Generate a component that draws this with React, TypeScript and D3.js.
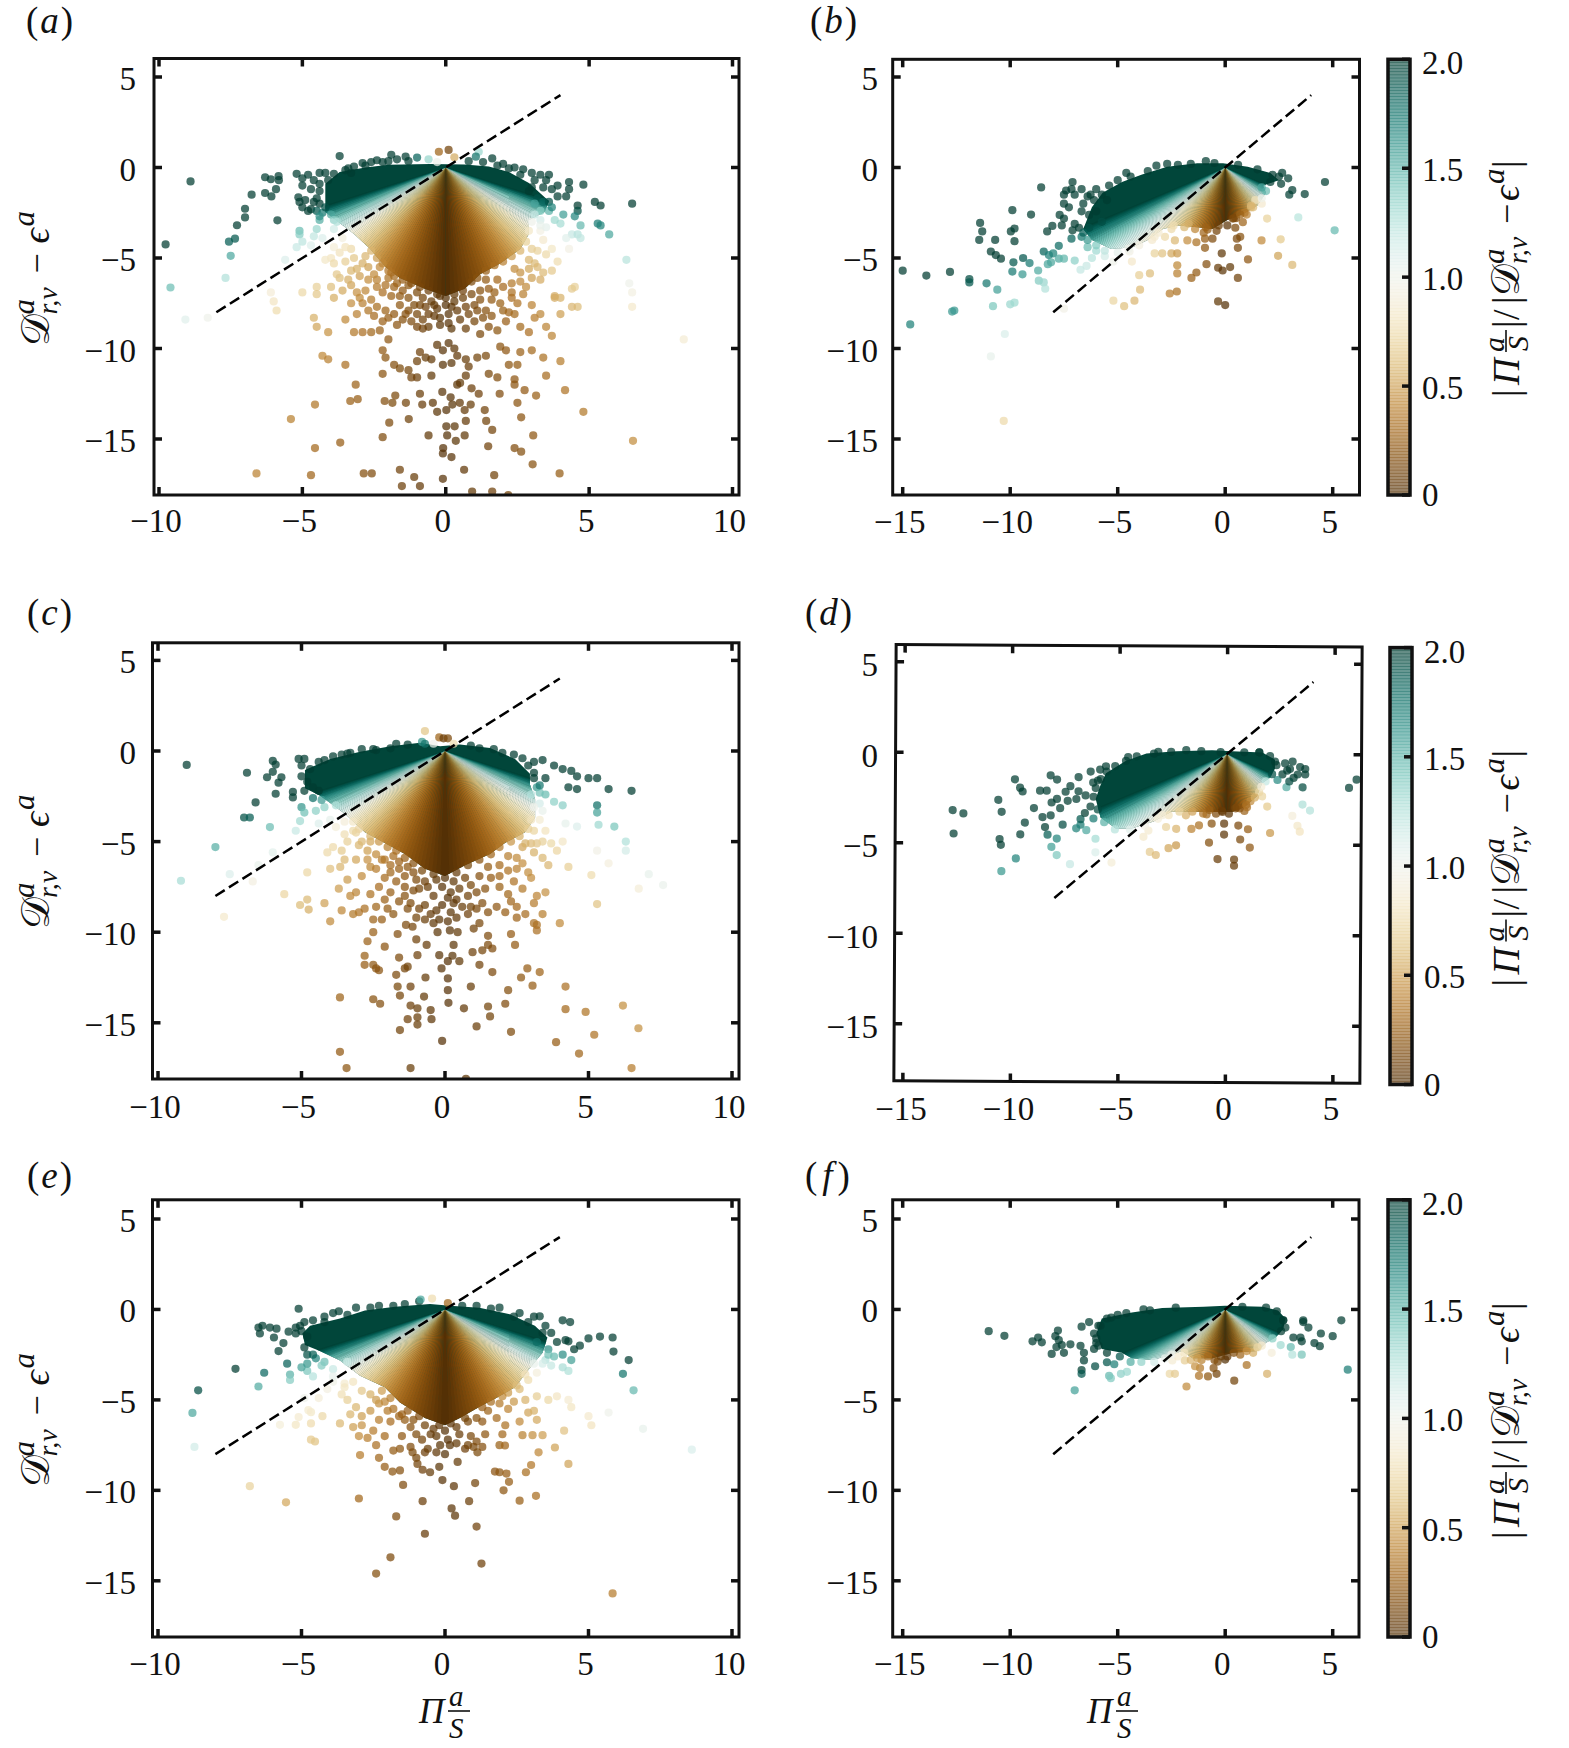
import * as d3 from "d3";

// flat x,y lists
const ptsA = [
-3.7,.63,-1.9,.7,-1.4,.6,-1,.55,-2.4,.4,-1.7,.45,-3.2,.05,-2.9,.25,-2.6,.3,-2.2,.3,-.6,.45,1.15,.87,1.05,.6,1.62,.5,2,.2,2.4,0,2.7,-.1,3,-.3,3.3,-.4,3.6,-.4,3.5,-.7,3.1,-.7,3.9,-1,4.3,-.8,4.8,-.95,4.3,-1.2,3.7,-1.2,3.4,-1.1,3,-1.1,2.9,-1.3,3.9,-1.6,4.2,-1.6,4.6,-2.1,5.2,-1.9,5.4,-2.1,6.5,-2,5.3,-3.1,5.4,-3.2,5.7,-3.7,4.6,-2.4,4.5,-2.7,4.1,-2.6,3.6,-2.4,3.3,-2.4,4,-3.1,4.7,-3.2,4.4,-3.7,4.6,-3.7,4.7,-3.9,4.2,-3.9,3.8,-2.9,3.3,-2.9,3.1,-2.6,
-8.9,-.77,-9.77,-4.25,-9.6,-6.63,-9.08,-8.4,-8.3,-8.3,-7.68,-6.1,-7.5,-4.88,-7.56,-4.1,-7.35,-3.93,-7.28,-3.19,-7,-2.76,-7,-2.28,-6.77,-1.5,-6.3,-.54,-6.1,-.65,-5.83,-.48,-5.82,-.7,-5.92,-1.2,-6.3,-1.41,-6.08,-1.6,-5.87,-2.92,-5.14,-1.65,
-5.2,-.35,-5,-.6,-4.8,-.4,-4.6,-.7,-4.4,-.3,-4.2,-.3,-5,-1,-4.7,-1.2,-4.4,-1.3,-5.1,-1.9,-4.9,-1.8,-4.6,-1.9,-4.4,-2,-4.7,-2.3,-4.5,-2.4,-4.3,-2.5,-4.8,-2.4,-5,-2.2,-4,-2.6,-3.9,-2.9,-4.4,-2.9,-5.1,-3.5,-5.1,-3.7,-4.5,-3.4,-3.9,-3.4,-4.3,-3.9,-4.6,-3.8,-5,-4.1,-5.2,-4.4,-5.6,-5.1,-4.7,-4.3,-3.6,-3.9,-3.9,-4.4,-3.3,-4.5,-3.7,-4.7,-4,-5,-3.5,-5.2,-4.2,-5.1,-3.9,-5.3,
-6.1,-6.9,-6,-7.4,-5.9,-7.9,-5,-6.9,-4.5,-6.6,-4.5,-7,-4,-6.6,-3.9,-7.2,-3.7,-6.1,-3.3,-5.7,-3,-6,-3.3,-6.5,-2.9,-5.3,-3.1,-6.9,-2.8,-6.8,-2.6,-7.3,-2.4,-6.2,-2,-6.1,-1.9,-5.8,-2.2,-6.9,-1.7,-6.4,-1.5,-6.8,
6.3,-5.1,6.4,-6.4,6.5,-6.9,6.5,-7.7,8.3,-9.5,4.5,-6.6,4.6,-7.7,3.8,-7.1,3.9,-5.2,3.7,-5.7,3.4,-5.8,3.2,-4.6,3.5,-4.8,3.3,-6.2,3,-6.1,2.8,-6.6,2.6,-6.3,2.3,-6.4,2,-6.6,2.4,-5.6,4.3,-4.5,3.1,-5.3,2.9,-5.6,1.8,-6.2,1.5,-6.7,
-1.3,-6.5,-1,-6.9,-.8,-7.2,-.5,-7.4,-.2,-7.1,.3,-7.4,.6,-7.2,.9,-7,1.2,-6.8,1.4,-6.2,-.9,-7.6,-.3,-7.8,.2,-7.7,1,-7.6,
-3.5,-4.4,-3.2,-5,-3.1,-5.6,-2.8,-4.9,-2.7,-5.5,-2.5,-5.9,-2.3,-5.5,-2.7,-6.2,-2.4,-6.6,-2.1,-6.5,-1.8,-6.6,-1.6,-7.1,-1.9,-7.1,-1.3,-7.2,-1.1,-7.6,-1.3,-7.9,-.7,-7.7,-.6,-8.1,-1,-8.1,-.2,-8.3,0,-7.6,.4,-7.9,.7,-7.7,.8,-8.1,1.2,-7.3,1.4,-7.9,1.6,-8.2,1.3,-8.3,2,-7.9,2.2,-8,2.5,-7.5,1.7,-6.9,2.3,-6.9,2.6,-5.8,2.9,-5.1,3.2,-5.5,3,-4.5,3.4,-4,3.7,-4.5,3.3,-3.5,-3.8,-5.9,-3.4,-6.2,-3.6,-6.8,-3,-7.2,-3.3,-7.5,-2.9,-7.5,-2.5,-8.2,-2.2,-8.5,-1.7,-8.7,-1.5,-8.4,-.8,-8.9,.1,-8.6,1.1,-7.9,-.4,-7.6,
-4.4,-.9,-4.1,-.7,-3.9,-.35,-3.5,-.15,-3.3,-.3,-4.5,-1.7,-4.2,-2.2,-4.4,-2.7,-3.8,-3,3.2,-1.7,3.4,-1.9,3.1,-2,3.6,-1.9,3.7,-2.2,3.5,-3.3,3.3,-3.2,2.6,-.4,2.2,-.05,1.8,.1,1.3,.3,.8,.35,-.3,.3,-1.3,.35,-2,.35,-2.8,.1,-3.4,-.05,
-2.6,-4.6,-2.4,-5,-2.2,-5.3,-2,-5.7,-1.8,-6,-1.5,-6.2,-1.2,-6.4,-.9,-6.6,-.6,-6.8,-.3,-7,0,-7.2,.3,-7,.6,-6.8,.9,-6.3,1.1,-6.1,1.4,-5.7,1.7,-5.4,2,-5.2,2.3,-4.9,2.6,-4.6,2.8,-4.1,2.9,-3.5,3,-3,
-4.6,-8.3,-4.5,-8.8,-4.1,-9.1,-3.5,-8.4,-3.2,-9.1,-3.1,-8.1,-2.7,-7.9,-2.4,-7.7,-2.1,-7.9,-2,-8.3,-1.8,-8.1,-1.6,-7.6,-1.4,-8.1,-1.2,-8.5,-1,-8.8,-.8,-8.4,-.6,-8.8,-.4,-8.2,-.2,-8.7,.1,-8.1,.2,-8.9,.5,-8.4,.7,-8.9,1,-8.5,1.2,-9.2,1.5,-8.8,1.8,-9,2.1,-8.5,2.4,-8.1,2.6,-8.8,2.9,-9.1,3.1,-8.3,3.3,-8.1,3.5,-8.8,3.7,-9.3,3.8,-7.2,4,-7.2,4,-8.1,4.4,-7.7,4.4,-6.7,1.6,-7.3,1.9,-7.5,2.3,-7.2,2.7,-7,3,-7.6,
-4.3,-10.4,-4.1,-10.6,-3.5,-10.9,-2.9,-9.1,-2.6,-9.1,-2.3,-9,-2,-9.5,-2.2,-10.1,-2.1,-10.5,-1.8,-10.9,-1.6,-11.1,-2.2,-11.4,-1.3,-11.2,-1.2,-11.6,-1,-11.6,-.9,-10.2,-1,-10.7,-.7,-10.5,-.5,-11.5,-.3,-9.8,-.1,-10.1,.1,-9.7,.3,-10,.4,-10.4,.2,-10.8,-.1,-10.9,.7,-10.6,.8,-11,.7,-11.5,1.1,-10.5,1.4,-10.4,1.5,-11.4,1.8,-11.6,1.9,-9.9,2.1,-10.1,2.2,-10.9,2.5,-10.9,2.4,-11.7,2.4,-12,2.6,-10.2,3,-10.1,3.4,-10.5,4,-10.7,3.5,-11.5,.4,-12,.5,-11.9,.9,-12.2,-.5,-10.6,
-6.6,-16.9,-4.7,-17,-2.86,-16.9,-2.58,-16.9,-1.6,-16.7,-1.1,-17.1,-1.53,-17.6,-.9,-17.6,-.1,-17.2,.64,-16.7,1.69,-17,3.03,-16.4,3.97,-16.9,.92,-17.9,1.62,-17.9,2.18,-18.1,-4.56,-15.5,-3.68,-15.2,-2.2,-14.9,-1.97,-14.1,-1.29,-13.9,-5.4,-13.9,-4.56,-13.1,-3.33,-12.9,-3.07,-12.8,-3.14,-12,-2.13,-12.9,-1.76,-12.6,-1.86,-13,-1.39,-13,-.9,-12.5,-.82,-13.1,-.45,-13,-.3,-13.5,.02,-13.4,-.12,-12.4,.17,-12.7,.23,-13.1,.49,-13,.66,-13.4,.87,-13.1,.7,-14,.02,-14.3,.31,-14.3,1.36,-13.4,1.15,-12.5,1.88,-12.5,2.5,-13,2.63,-13.8,3.15,-12.6,2.75,-12.3,4.16,-12.3,4.8,-13.5,6.53,-15.1,3.05,-14.8,1.62,-14.5,1.41,-14,-.6,-14.8,.05,-14.8,.66,-14.8,.35,-15.1,-.09,-15.5,-.1,-15.8,.2,-16,1.48,-15.4,2.4,-15.5,2.63,-15.7,
-.24,.87,.1,.97,.3,.56,
];
const envA = [-4.2,-1.45,-4.2,-.9,-3.7,-.25,-2.8,0,-2,.15,-.55,.2,.66,.16,1.5,.06,2.2,-.25,2.9,-.85,3.45,-1.65,3.6,-1.85,3.45,-2.46,2.9,-2.9,2.9,-3.67,2.6,-4.5,1.9,-5.3,1.2,-5.9,.66,-6.7,0,-7.1,-.73,-6.7,-1.6,-6.1,-2.1,-5.5,-2.65,-4.48,-3.2,-3.67,-3.7,-3.06,-4.2,-2.46];

const ptsB = [
-15,-5.7,-13.9,-5.97,-12.8,-5.77,-11.9,-6.17,-11.9,-6.35,-11.1,-6.4,-10.6,-6.75,-14.65,-8.67,-12.7,-7.96,-12.6,-7.9,-10.8,-7.66,-10,-7.56,-9.8,-7.46,-10.25,-9.2,-10.9,-10.44,-10.3,-14,-7.5,-7.8,
-11.4,-3.06,-11.3,-3.53,-11.44,-4,-10.7,-4,-10.9,-4.64,-10.67,-4.84,-10.43,-5.04,-9.9,-2.36,-9.03,-2.6,-8.56,-1.1,-9.97,-3.53,-9.8,-3.37,-9.8,-4.07,-9.85,-5.24,-9.4,-5,-9.1,-5.28,-9.9,-5.75,-9.43,-5.9,-8.7,-5.69,-8.67,-6.25,-8.44,-6.35,-8.37,-6.7,-8.44,-4.64,-8.2,-4.84,-8,-4.74,-8.25,-5.34,-8.1,-5.24,-7.74,-5.04,-7.5,-5.04,-7,-5.14,-6.73,-5.65,-6.45,-5.44,-8.28,-3.53,-8.04,-3.23,-7.74,-4.33,
-7.1,-.8,-7.15,-1.2,-7.4,-1.27,-6.68,-1.2,-7.5,-1.5,-7,-1.5,-7.5,-2,-7.27,-2.2,-7.7,-2.62,-7.5,-2.82,-7.6,-3.2,-7,-3.12,-6.68,-2.42,-6.33,-2.62,-6.26,-1.5,-5.74,-1.5,-6.1,-1.8,-5.5,-1.8,-6,-2.42,-6.8,-3.33,-6.33,-3.33,-6.68,-3.83,-7.15,-3.93,-7.1,-3.47,-5.74,-3,-6.4,-4.4,-6,-4.6,-5.6,-4.9,-5.2,-5.2,-6.2,-5,
4.64,-.8,5.09,-3.47,3.7,-1.47,3.12,-1.25,2.98,-1.5,2.93,-.6,2.65,-.3,1.95,-2.82,3.4,-2.76,1.69,-4.03,2.58,-3.97,2.46,-4.88,3.12,-5.38,1.06,-5.08,.59,-4.44,.7,-3.83,.54,-3.93,.47,-3.33,.82,-3.02,.35,-2.82,1.4,-1.8,1.2,-2.2,1,-2.6,1.7,-2,
-.16,-4.74,-.87,-5.34,-.33,-5.54,-.12,-5.69,.23,-5.5,.59,-6.1,-1.34,-5.8,-1.57,-6.1,-2.23,-5.4,-2.23,-5.85,-3.5,-5.85,-4,-5.95,-3.96,-6.75,-2.58,-6.96,-2.25,-6.85,-5.2,-7.36,-4.7,-7.66,-4.22,-7.36,-.33,-7.4,0,-7.6,
-4.34,-5.2,-4.45,-4.64,-3.28,-4.74,-2.93,-4.74,-2.5,-4.74,-2.23,-4.74,-2.34,-4.03,-1.76,-4.03,-1.34,-4.13,-.94,-4.44,-.94,-3.93,-.59,-3.93,-.82,-3.43,-3.28,-3.83,-2.8,-3.83,
-4.6,-.3,-3.2,.1,-2.7,.2,-.9,.35,
-6.6,-2,-6.4,-1.6,-6,-1.2,-5.4,-1,-5,-.7,-4.4,-.5,-3.6,-.2,-2.2,.15,-1.6,.2,-.5,.25,.6,.15,1.5,-.1,2.2,-.4,2.5,-.5,2.6,-.9,2.1,-.8,-6.6,-3.6,-6.4,-4,-6,-4.3,-5.6,-4.6,-5,-4.7,-4.5,-4.5,-4,-4.3,-3.4,-4,-3.1,-3.6,-2.5,-3.4,-1.9,-3.3,-1.4,-3.4,-1,-3.6,-.4,-3.5,.1,-3.2,.5,-2.8,.9,-2.5,1.3,-2.2,1.7,-1.7,1.9,-1.3,1.7,-1.1,
-.3,-3.2,-.9,-3.3,-1.7,-3.1,-2.4,-3.2,.4,-2.8,.7,-2.6,1.2,-2.1,
];
const envB = [-6.2,-2.2,-5.7,-1.4,-4.8,-.8,-3.9,-.4,-2.7,.04,-1.3,.24,-.1,.24,1.05,.04,2.1,-.3,2.5,-.7,1.76,-1,1.9,-1.4,1.5,-2.1,.8,-2.6,.1,-2.9,-.6,-3.4,-1.3,-3.3,-2.2,-3.2,-2.9,-3.4,-3.6,-4,-4.3,-4.4,-5.3,-4.5,-6.2,-4,-6.6,-3.4];

const ptsC = [
-9,-.77,-9.2,-7.16,-8,-5.3,-7.7,-9.15,-6.9,-1.2,-7,-3.67,-6.8,-3.67,-6.6,-2.84,-6.1,-4.2,-6,-.54,-5.9,-.75,-6,-1.15,-6.2,-1.45,-5.7,-1.45,-5.8,-1.75,-5.9,-2.36,-5.3,-2.26,-5.3,-2.56,-5.1,-.44,-4.9,-.44,-5.6,-7.9,-4.8,-6.7,-5.05,-8.5,-4.8,-8.2,-4.75,-8.75,-4.2,-8.4,-4,-9.4,-4,-6.5,-3.65,-6.4,-5.05,-3.87,-5.2,-4.4,-6,-5.6,-7.5,-6.8,-6.7,-7.2,-6.5,-6.3,
6.5,-2.2,5.7,-2.1,5.3,-3,5.3,-3.4,5.35,-4.07,5.9,-4.17,4.6,-4.17,4.2,-4,6.3,-5,6.3,-5.5,5.3,-5.5,5.7,-6.2,5.1,-6.85,7.1,-6.8,7.6,-7.4,6.75,-7.6,5.3,-8.45,4.3,-6.4,4,-9.5,
-3.66,-13.6,-2.5,-13.7,-2.26,-13.95,-3.66,-16.6,-3.43,-17.5,-1.2,-17.5,-.1,-16,-1.57,-15.4,-1.3,-14.8,-.96,-15.1,-.96,-14.7,-.47,-14.8,-.5,-14.3,-1.2,-14.05,-.96,-14.2,.12,-13.9,.66,-14.2,1.5,-14.1,2.1,-13.95,1.57,-14.65,1.1,-15.2,2.3,-15.5,3.87,-16.07,4.67,-16.7,5.2,-15.66,4.9,-14.4,4.2,-14.25,6.2,-14.05,6.74,-15.3,6.5,-17.5,.73,-18.1,
4.2,-13,3.05,-12.95,2.2,-13.2,2.65,-12.5,2.87,-12,3.3,-12.2,.9,-13,.1,-13.2,-.73,-13.55,-1.57,-13.5,-1.65,-13,-1.2,-13,-.68,-12.5,-1.7,-12.35,-1.4,-12,-1.3,-11.9,.1,-12.55,-.12,-12,1.2,-11.8,1.65,-12.2,.26,-11.3,.1,-11.6,-.2,-11.27,.5,-11.6,.96,-11.1,1.3,-11,1.5,-10.7,2.44,-10.7,2.3,-10.1,1.5,-10.2,1.65,-10.9,-.96,-11.27,-1.6,-11.4,-2.1,-10.8,-2.8,-11.3,-2.8,-11.8,-2.5,-11.8,-2.4,-12,-2.3,-12.1,-2.7,-10.5,-2.5,-10,-2.5,-9.3,-2.2,-9.3,-1.65,-10.1,-1.36,-9.6,-1.13,-9.7,-1,-10.4,-.64,-10.7,-.26,-10,.17,-9.9,.44,-10,.3,-10.7,3.2,-9.6,3.2,-9.9,3.1,-9.5,
-3.4,-7.1,-3.1,-7.8,-2.9,-6.9,-3.3,-8,-3,-8.9,-2.8,-8.7,-2.6,-7.9,-2.3,-7.5,-2.1,-8.2,-1.9,-7.8,-2.1,-7,-1.7,-7.2,-1.6,-8.3,-1.4,-8,-1.2,-8.4,-1.1,-7.7,-.9,-8.7,-.7,-8.5,-.5,-9,-.3,-8.8,-.2,-9.3,.1,-9.4,.1,-8.1,-.1,-7.5,.2,-7.8,.4,-8.2,.6,-8.6,.8,-9,.8,-8,1.1,-8.7,1.3,-8.4,1.5,-8.9,1.8,-8.6,1.4,-7.6,1.9,-7.5,2.2,-7.9,2.1,-8.9,2.5,-8.6,2.8,-9,2.4,-7.2,2.7,-7.6,3,-7,3.2,-8,3.5,-7.8,3.4,-9,3.1,-8.4,2.9,-6.7,
-5,-.8,-4.7,-1,-4.8,-1.7,-4.9,-2.2,-4.6,-2.6,-4.4,-2.2,-4.2,-.5,-3.6,-.2,-3.3,-.1,-2.9,.1,-2.4,.05,-1.9,.15,-1.7,.4,-.8,.5,-.7,.4,
-.2,.75,-.05,.7,.1,.7,-.7,1.1,.3,.4,1.2,.15,1.7,.1,2.4,-.2,2.7,-.4,3.1,-.6,3.4,-.5,3.8,-.8,4.1,-1,4.4,-1.1,4.6,-1.4,3.1,-1.2,3.5,-1.5,3.2,-2,3.5,-2.4,3.3,-2.3,3,-2.4,4.3,-2,4.6,-2.1,5,-1.5,5.3,-1.5,3.8,-2.8,4.1,-3,3.3,-2.9,
-5,-3.1,-4.9,-3.4,-4.5,-3.3,-4.2,-3.1,-4.4,-4,-4,-3.8,-3.8,-4.2,-3.5,-4.6,-3.2,-4.4,-3.4,-5,-3.9,-5.3,-3,-5.2,-2.7,-5.5,-2.4,-5.7,-3.1,-6,-2.6,-6.4,-2.2,-6,-1.9,-6.3,-1.6,-6.5,-1.4,-6.9,
3.5,-4.4,3.7,-5.1,3.4,-5.9,3.1,-5.6,3.6,-6.3,3,-5.1,2.7,-5.3,2.5,-5.9,2.2,-5.8,1.9,-6.3,1.5,-6.4,1.2,-6.9,.7,-7,-.3,-7.1,-.7,-7.2,-1,-7.1,3.9,-5.5,4.1,-5,
-3.5,-3.9,-3.1,-4.5,-2.9,-5,-2.6,-5,-2.7,-6,-2.4,-6.5,-2.1,-6,-1.8,-5.8,-1.9,-6.7,-1.6,-6.1,-1.3,-6.4,-1.1,-6.7,-1.4,-7.5,-.9,-7.6,-.6,-7.5,-.4,-8,-.1,-8.5,.2,-8.9,.3,-8.4,.3,-7.2,.5,-7.6,.9,-7.4,1.1,-7.8,1.6,-7,1.9,-6.9,2.2,-6.6,2.5,-6.5,2.7,-6.2,2.8,-5.1,3.2,-5.1,3.4,-5,3.1,-4.4,3.3,-3.8,3.4,-3.3,-2,-8.7,-1.8,-9,-1.3,-8.7,-1,-9.2,-.7,-9.3,-.4,-9.5,.4,-9.2,.9,-8.6,1.2,-9.5,2.3,-8.3,2.5,-9.2,1,-9.8,-3.6,-8.8,-3.2,-9,-2.4,-8.6,-3.7,-7.6,-3.5,-6,-4.1,-5.6,-3.6,-5.5,
-4.4,-.6,-3.9,-.3,-3.4,-.15,-2.5,.1,-1.3,.35,-.4,.4,.9,.3,2,-.1,2.9,-.8,-5,-1.4,-4.6,-2,-4.3,-2.7,-3.8,-3,3.1,-1.5,3.3,-1.9,
-3.2,-3.9,-3,-4.3,-2.6,-4.7,-2.3,-5,-2,-5.3,-1.7,-5.5,-1.4,-5.9,-1.1,-6.2,-.8,-6.6,-.4,-6.8,0,-7,.4,-6.7,.8,-6.3,1.2,-6,1.6,-5.7,1.9,-5.3,2.3,-5,2.6,-4.7,2.9,-4.3,3,-3.8,3.1,-3.1,
];
const envC = [-4.88,-1.05,-4,-.44,-2.96,-.04,-1.9,.26,-.87,.46,-.17,.26,.52,.36,1.57,.16,2.44,-.44,2.96,-1.25,2.96,-1.85,3.14,-2.66,3.14,-3.67,2.79,-4.48,2.09,-5.08,1.57,-5.69,.7,-6.3,0,-6.9,-.7,-6.5,-1.4,-5.69,-2.1,-5.08,-2.79,-4.48,-3.48,-3.47,-4.36,-2.46,-4.88,-2.06];

const ptsD = [
-12.75,-3.18,-12.25,-3.36,-12.7,-4.47,-10.63,-2.6,-10.47,-3.26,-10.56,-4.76,-10.5,-5.08,-10.47,-6.54,-9.8,-5.83,-9.86,-1.46,-9.62,-1.92,-9.5,-2.13,-9.39,-3.85,-9.6,-4.5,-8.97,-3.04,-8.69,-2.08,-8.38,-2.08,-8.2,-1.23,-7.9,-1.46,-8.57,-3.54,-8.45,-4.09,-8.33,-4.51,-8.19,-3.44,-8.15,-2.73,-7.9,-2.53,-7.75,-3.04,-7.63,-3.95,-7.9,-4.72,-8.15,-5.18,-7.9,-5.63,-7.28,-6.13,-6.1,-5.47,-6.1,-4.72,-5.35,-6.03,-6.8,-3.95,-6.53,-4.25,-6.8,-3.64,-7,-4.15,
-7.5,-2.13,-7.28,-1.82,-6.9,-1.32,-6.34,-1.01,-7.4,-2.63,-7,-2.53,-6.57,-2.33,-6.22,-1.62,-6.1,-1.92,-5.87,-1.42,-5.63,-.71,-6.34,-2.94,-5.9,-.9,-6.9,-2.1,-6.6,-3.3,-6.2,-3.6,
6.03,-1.38,5.68,-1.84,3.52,-1.82,2.77,-1.82,3.52,-2.77,3.87,-3.1,3.05,-3.4,3.29,-3.95,3.4,-4.27,2.02,-4.35,1.64,-2.33,1.88,-2.89,3.64,-.81,3.64,-1.11,3.05,-.4,2.58,-1.11,3.29,-1.11,2.93,-.81,2.7,-.5,2.23,-.4,2.35,-1.42,2.8,-.9,3.4,-.7,3.1,-1.3,2.9,-1.5,
-.42,-5.81,.35,-5.83,.35,-6.17,-.82,-4.9,-.12,-4.45,.63,-4.72,1.08,-5.16,.99,-4.15,.54,-3.95,-.12,-3.85,-.7,-3.85,-1.29,-3.95,-1.64,-4.15,-2.35,-4.15,-2.82,-4.05,-2.35,-5.06,-2.7,-5.22,-3.57,-5.43,-3.29,-5.6,-3.64,-4.25,-3.87,-4.6,.82,-3.14,.47,-2.94,.94,-2.94,-.94,-3.34,-.23,-3.14,
-4.6,-.2,-3.2,.1,-1.9,.2,1.5,.1,
-6,-1.5,-5.6,-1,-5.2,-.7,-4.7,-.4,-4.2,-.15,-3.4,0,-2.6,.1,-1.2,.15,-.3,.1,.8,.1,1.5,.1,2,-.1,2.3,-.6,2.1,-1.1,1.8,-1.5,1.5,-2.1,1.1,-2.6,.6,-3,.1,-3.3,-.5,-3.3,-1.1,-3.3,-1.9,-3.4,-2.7,-3.4,-3.2,-3.6,-3.8,-4,-4.5,-4.2,-5.2,-4.2,-5.7,-3.8,-6,-3.1,-6.2,-2.4,
-.2,-3.2,-.8,-3.1,-1.6,-3.2,-2.2,-3.2,-3,-3.4,.4,-3,.9,-2.8,1.3,-2.4,1.6,-1.8,
];
const envD = [-5.63,-1.1,-4.7,-.4,-3.75,0,-2.35,.14,-.7,.2,.23,.16,1.64,.1,2.23,-.3,2.23,-.8,2,-1.3,1.64,-1.6,1.4,-2.33,.82,-2.94,.23,-3.2,-.47,-3.2,-1.4,-3.2,-2.58,-3.2,-3.4,-3.75,-4.46,-4.15,-5.16,-4.15,-5.87,-3.54,-6.1,-2.53,-5.87,-1.72];

const ptsE = [
-8.6,-4.47,-8.8,-5.72,-8.73,-7.6,-7.3,-3.28,-6.5,-4.26,-6.3,-3.5,-6.5,-1,-6.36,-.9,-6.1,-1,-5.87,-1.06,-6.45,-1.33,-5.96,-1.55,-5.63,-1.86,-5.8,-2.3,-5.5,-3,-5.1,.04,-5.45,-1.23,-5.2,-1.33,-5.05,-.9,
-6.8,-9.77,-5.54,-10.66,-3,-10.45,-.78,-10.6,.84,-10.6,2.6,-10.57,3.17,-10.3,-1.7,-11.44,-.7,-12.4,.23,-11,.35,-11.4,1.1,-12,-1.9,-13.7,-2.4,-14.6,1.27,-14.05,5.84,-15.7,
-.09,-9.43,.31,-9.77,1.05,-9.6,2.04,-10,2.23,-9.53,-1.46,-9.7,-2.1,-8.7,-1.83,-8.96,-1.57,-8.9,-2.3,-8.2,-2.96,-8.05,-.2,-8.7,-.78,-8.86,-.52,-9,-.96,-8.54,-.7,-7.9,-1.13,-7.9,-1.57,-7.7,.44,-8.43,0,-8,-.17,-7.5,.17,-7.5,1.13,-7.9,1.74,-8.96,1.9,-9,2.14,-9.07,2.82,-9,3,-8.6,4.3,-8.54,3.83,-7.63,3.26,-7.9,1.9,-7.5,2.09,-7.52,2.7,-6.95,3.05,-6.95,3.4,-6.95,4.15,-6.7,5.1,-6.4,5,-5.9,5.7,-5.7,6.9,-6.6,8.6,-7.75,6.57,-4.47,6.2,-3.56,6.4,-2.8,5.87,-2.33,5.84,-1.55,5.4,-1.5,5,-1.6,4.7,-2,4.36,-.7,3.3,-.38,4.3,-1.76,
-4.53,-7.3,-4.67,-7.2,-3.66,-6.3,-4.27,-5.9,-4.67,-5.68,-4.76,-5.57,-5.75,-6.38,-5.2,-6.38,-4.67,-6.3,-5.1,-5.95,
-3.1,-5.4,-2.9,-5.9,-3.3,-5.8,-2.6,-5.6,-2.9,-6.4,-3.2,-6.5,-2.7,-7.1,-2.1,-7,-1.8,-7.8,-1.5,-7,-1.9,-6.2,-2.3,-6.1,-2,-5.6,-2.3,-5.2,-1.6,-5.9,-1.2,-6.5,-1.4,-6.1,-1,-6.9,-.8,-7.2,-.5,-6.9,-.3,-7,.5,-6.9,.9,-7,1.1,-7.3,1.4,-6.9,1.3,-6.2,1.8,-6,2.1,-6.4,2.2,-5.5,2.6,-6.2,2.9,-5.7,3.1,-5.6,3.2,-6.1,2.4,-5.1,2.8,-5,3.2,-4.8,3.6,-5,3.9,-4.8,4.3,-5,4.4,-5.4,2,-6.9,1.3,-7.6,.7,-7.7,
-4.4,-4.9,-4.1,-4.4,-3.9,-4,-3.6,-4.7,-3.5,-4.1,-3.4,-5,-4.9,-4.9,-4.8,-3.4,-5,-3.2,-4.8,-3,-4.5,-2.7,-4.2,-2.9,-3.9,-3.3,-4.6,-3.7,-5.4,-3.6,-5.4,-3.9,-4.8,-2.5,
-5,-1.2,-4.8,-1.5,-4.9,-.7,-4.6,-.6,-4.2,-.4,-3.9,-.2,-3.7,-.1,-3.1,.1,-2.3,.2,-1.4,.3,-.9,.45,-.85,.55,-.45,.6,.1,.35,1.1,.2,1.9,.1,2.6,-.2,3.1,-.4,3.5,-.9,3.7,-1.3,4.1,-.6,3.2,-1.8,3.6,-2.2,3.9,-1.8,4.2,-1.7,4.5,-2.2,4.1,-2.5,4.4,-2.8,3.8,-2.6,3.5,-2.8,3.7,-3.1,4.3,-3.4,4.1,-3.2,
-3.2,-4,-2.9,-4.5,-2.6,-4.7,-2.4,-5,-2.1,-5.1,-1.8,-5.5,-1.5,-5.8,-1.1,-6.1,-.7,-6.4,-.4,-6.6,0,-6.7,.4,-6.5,.8,-6.2,1.1,-6,1.5,-5.6,1.9,-5.2,2.2,-4.6,2.6,-4.4,2.9,-3.9,3.2,-3.5,3.4,-3,3.6,-2.5,-.6,-7.7,-.3,-7.9,.1,-7.2,.4,-7.4,.8,-7.5,1,-7.6,-2.4,-7.5,-2.5,-6.7,-3,-7,-1.2,-7.6,-1,-8.2,-3.5,-4.3,-3.9,-3.7,-4.3,-3.1,-4.6,-2.5,-4.9,-2.1,-3.4,-2.9,
-5.2,-1,-4.2,-.7,-3.4,-.3,-2.6,.1,-1.8,.2,.6,.2,1.6,.05,2.4,-.4,2.9,-.7,3.4,-1.3,
-2.2,-4.5,-1.9,-4.9,-1.3,-5.6,-.9,-5.9,-.2,-6.4,.2,-6.3,.7,-6,1.3,-5.4,1.6,-5.1,2,-4.8,2.5,-4.2,2.8,-3.6,3.1,-3,
];
const envE = [-4.7,-.9,-3.66,-.5,-2.79,-.06,-1.74,.15,-.52,.3,.17,.2,1.2,.1,2.26,-.27,3.13,-.9,3.57,-1.55,3.4,-2.4,2.96,-3.24,2.44,-4.3,1.74,-4.94,1.22,-5.36,.52,-6,0,-6.4,-.7,-6,-1.57,-5.15,-2.1,-4.3,-2.96,-3.67,-3.66,-2.82,-4.36,-2.29,-4.88,-1.97,-4.97,-1.33];

const ptsF = [
-11,-1.2,-10.27,-1.46,-8.96,-1.76,-8.7,-1.55,-8.53,-1.82,-8.07,-2.46,-7.9,-1.48,-7.78,-1.17,-7.74,-1.7,-7.85,-2.08,-7.6,-1.97,-7.5,-2.4,-7.2,-1.93,-6.73,-2.01,-6.57,-2.4,-6.57,-2.82,-6.68,-3.35,-6.68,-3.56,-7,-4.47,-6.05,-3.14,-6.1,-2.18,-6,-1.86,-6.68,-.95,-6.33,-.7,-6.1,-1.33,-5.4,-3.67,-5.32,-3.8,-4.85,-3.56,-5.5,-2.92,-5.16,-3.03,-4.57,-3.45,
-1.8,-4.26,.42,-3.94,-1.22,-3.67,-.8,-3.7,-.4,-3.56,-1.17,-3.24,-.54,-3.24,-.35,-2.88,0,-2.77,1,-3.07,1.95,-3.56,-2.58,-3.56,-2.34,-3.56,-2.46,-2.82,-1.88,-2.82,-1.4,-3.14,
5.7,-3.33,5.4,-.6,5,-1.48,4.45,-1.33,4.4,-2.03,4.15,-1.86,3.87,-1,3.63,-.6,3.63,-.7,3.5,-1.55,3.56,-1.76,3.17,-1.55,3.05,-2.08,3.56,-2.5,3.12,-2.5,2.58,-1.97,2.16,-2.4,2.8,-1,2.7,-.6,
-5.9,-.9,-5.5,-.5,-5,-.3,-3.8,0,
-6,-1.6,-5.8,-.9,-5.3,-.45,-4.6,-.2,-3.5,-.05,-2.3,.1,.8,.15,1.9,.1,2.4,-.1,2.7,-.6,2.6,-1.2,2.2,-1.6,1.7,-2,1.3,-2.4,.7,-2.5,.1,-2.6,-.5,-2.8,-1.1,-2.8,-1.6,-2.8,-2.2,-2.6,-2.8,-2.7,-3.3,-2.9,-3.9,-2.9,-4.4,-2.9,-4.9,-2.6,-5.5,-2.4,-5.9,-2,
-.2,-2.6,-.8,-2.6,-1.3,-2.7,-1.9,-2.4,-2.5,-2.5,.4,-2.4,1,-2.3,1.5,-2.1,
];
const envF = [-5.74,-.5,-4.34,-.17,-2.93,.08,-1,.15,0,.2,1.76,.15,2.46,-.06,2.8,-.5,2.7,-1.1,2.34,-1.55,1.88,-1.86,1.52,-2.3,.35,-2.4,-.59,-2.7,-1.52,-2.7,-2,-2.3,-2.46,-2.5,-3.4,-2.8,-4.34,-2.7,-4.8,-2.4,-5.74,-2.18,-6,-1.33];

const lineX = [-8, 4];
const lineY = [-8, 4];
const yTicks = [5, 0, -5, -10, -15];
const xTicksWide = [-10, -5, 0, 5, 10];
const xTicksNarrow = [-15, -10, -5, 0, 5];
const cbTicks = [0, 0.5, 1, 1.5, 2];

const SERIF = "'Liberation Serif', 'Times New Roman', serif";
const SCRIPT = "'DejaVu Serif', 'DejaVu Sans', serif";
const MINUS = "\u2212";
const fmt = (v: number) => (v < 0 ? MINUS + Math.abs(v) : String(v));
const ratioColor = (c: number) => d3.interpolateBrBG(Math.min(c, 2) / 2);
const toPairs = (a: number[]) => d3.range(0, a.length - 1, 2).map((i) => [a[i], a[i + 1]] as [number, number]);

const fanRatios = d3.range(0, 2, 2 / 90);

interface PanelCfg {
  id: string;
  pts: number[];
  env: number[];
  xTicks: number[];
  xr: [number, number];
  yr: [number, number]; // px of y=5 and y=-15
  frame: [number, number, number, number]; // left right top bottom
  tag: string;
  tagX: number;
  tagY: number;
  xLabDy: number;
  yLabRight: number;
  rot?: number;
  yLab?: boolean;
}

const PANELS: PanelCfg[] = [
  { id: "a", pts: ptsA, env: envA, xTicks: xTicksWide, xr: [159, 732.5], yr: [77, 439], frame: [154, 739, 58.5, 495], tag: "a", tagX: 26, tagY: 33, xLabDy: 37, yLabRight: 136, yLab: true },
  { id: "b", pts: ptsB, env: envB, xTicks: xTicksNarrow, xr: [902.7, 1332.7], yr: [77, 439], frame: [892.7, 1359.5, 59.3, 495], tag: "b", tagX: 810, tagY: 33, xLabDy: 37.5, yLabRight: 878 },
  { id: "c", pts: ptsC, env: envC, xTicks: xTicksWide, xr: [158, 732], yr: [660.4, 1022.8], frame: [152.5, 739, 642.8, 1079], tag: "c", tagX: 27, tagY: 625, xLabDy: 39, yLabRight: 136, yLab: true },
  { id: "d", pts: ptsD, env: envD, xTicks: xTicksNarrow, xr: [904, 1334], yr: [663, 1025], frame: [895, 1361, 645.8, 1082], tag: "d", tagX: 805, tagY: 625, xLabDy: 38, yLabRight: 878, rot: 0.3 },
  { id: "e", pts: ptsE, env: envE, xTicks: xTicksWide, xr: [158, 732], yr: [1219, 1580.8], frame: [152.5, 739, 1199.8, 1637], tag: "e", tagX: 27, tagY: 1188, xLabDy: 38, yLabRight: 136, yLab: true },
  { id: "f", pts: ptsF, env: envF, xTicks: xTicksNarrow, xr: [902.7, 1332.7], yr: [1219, 1580.8], frame: [892.7, 1359, 1199.8, 1637], tag: "f", tagX: 805, tagY: 1188, xLabDy: 38, yLabRight: 878 },
];

const BARS = [
  { x0: 1388, x1: 1410, top: 59.3, bottom: 495 },
  { x0: 1390, x1: 1412, top: 647.6, bottom: 1084.5 },
  { x0: 1388, x1: 1410, top: 1199.8, bottom: 1637 },
];

function Panel({ cfg }: { cfg: PanelCfg }) {
  const [l, r, t, b] = cfg.frame;
  const x = d3.scaleLinear().domain([cfg.xTicks[0], cfg.xTicks[4]]).range(cfg.xr);
  const y = d3.scaleLinear().domain([5, -15]).range(cfg.yr);
  const pts = toPairs(cfg.pts);
  const env = toPairs(cfg.env);
  const hull = d3.line<[number, number]>().x((d) => x(d[0])).y((d) => y(d[1])).curve(d3.curveLinearClosed)(env) ?? "";
  const far = 40;
  const wedge = (c0: number, c1: number, side: number) =>
    d3.line<[number, number]>().x((d) => x(d[0])).y((d) => y(d[1])).curve(d3.curveLinearClosed)([
      [0, 0],
      [side * c0 * far, -far],
      [side * c1 * far, -far],
    ]) ?? "";
  const step = fanRatios[1] - fanRatios[0];
  const rotate = cfg.rot ? `rotate(${cfg.rot} ${(l + r) / 2} ${(t + b) / 2})` : undefined;
  return (
    <g>
      <defs>
        <clipPath id={`frame-${cfg.id}`}>
          <rect x={l} y={t} width={r - l} height={b - t} />
        </clipPath>
        <clipPath id={`hull-${cfg.id}`}>
          <path d={hull} />
        </clipPath>
      </defs>
      <g transform={rotate}>
        <g clipPath={`url(#frame-${cfg.id})`}>
          <g clipPath={`url(#hull-${cfg.id})`}>
            <rect x={l} y={t} width={r - l} height={b - t} fill="#01463a" />
            {fanRatios.map((c) => (
              <g key={c}>
                <path d={wedge(c, c + step * 1.15, 1)} fill={ratioColor(c)} />
                <path d={wedge(c, c + step * 1.15, -1)} fill={ratioColor(c)} />
              </g>
            ))}
          </g>
          {pts.map((d, i) => (
            <circle
              key={i}
              cx={x(d[0])}
              cy={y(d[1])}
              r={4.1}
              fill={ratioColor(Math.abs(d[0]) / Math.max(Math.abs(d[1]), 1e-6))}
              opacity={0.72}
            />
          ))}
        </g>
        <line x1={x(lineX[0])} y1={y(lineY[0])} x2={x(lineX[1])} y2={y(lineY[1])} stroke="#000" strokeWidth={2.5} strokeDasharray="11,5" />
        <rect x={l} y={t} width={r - l} height={b - t} fill="none" stroke="#111" strokeWidth={3} />
        {cfg.xTicks.map((v) => (
          <g key={v} stroke="#111" strokeWidth={3.5}>
            <line x1={x(v)} x2={x(v)} y1={t} y2={t + 8} />
            <line x1={x(v)} x2={x(v)} y1={b} y2={b - 8} />
          </g>
        ))}
        {yTicks.map((v) => (
          <g key={v} stroke="#111" strokeWidth={3.5}>
            <line x1={l} x2={l + 8} y1={y(v)} y2={y(v)} />
            <line x1={r} x2={r - 8} y1={y(v)} y2={y(v)} />
          </g>
        ))}
      </g>
      <g fontFamily={SERIF} fontSize={33} fill="#111">
        {cfg.xTicks.map((v) => (
          <text key={v} x={x(v) - 3} y={b + cfg.xLabDy} textAnchor="middle">{fmt(v)}</text>
        ))}
        {yTicks.map((v) => (
          <text key={v} x={cfg.yLabRight} y={y(v) + 13} textAnchor="end">{fmt(v)}</text>
        ))}
      </g>
      <text x={cfg.tagX} y={cfg.tagY} fontFamily={SERIF} fontSize={37} fill="#111" letterSpacing={cfg.tag === "f" ? 5 : 2}>
        (<tspan fontStyle="italic">{cfg.tag}</tspan>)
      </text>
      {cfg.yLab && <YLabel x={49} y={y(0) + 178} />}
    </g>
  );
}

// D^a_{r,v} - e^a, built along the rotated baseline
function YLabel({ x, y }: { x: number; y: number }) {
  return (
    <g transform={`translate(${x},${y}) rotate(-90)`} fontFamily={SERIF} fill="#111" fontStyle="italic">
      <text x={0} y={0} fontSize={40} fontFamily={SCRIPT} fontStyle="normal">𝒟</text>
      <text x={31} y={-15} fontSize={31}>a</text>
      <text x={31} y={8} fontSize={28}>r,ν</text>
      <text x={72} y={0} fontSize={36} fontStyle="normal">{MINUS}</text>
      <text x={102} y={0} fontSize={38}>ϵ</text>
      <text x={119} y={-15} fontSize={31}>a</text>
    </g>
  );
}

function BarLabel({ x, y }: { x: number; y: number }) {
  return (
    <g transform={`translate(${x},${y}) rotate(-90)`} fontFamily={SERIF} fill="#111" fontStyle="italic">
      <text x={-1} y={0} fontSize={38} fontStyle="normal">|</text>
      <text x={11} y={0} fontSize={37}>Π</text>
      <text x={44} y={-15} fontSize={30}>a</text>
      <line x1={44} x2={66} y1={-13} y2={-13} stroke="#111" strokeWidth={1.6} />
      <text x={45} y={9} fontSize={30}>S</text>
      <text x={68} y={0} fontSize={38} fontStyle="normal">|</text>
      <text x={76} y={0} fontSize={38} fontStyle="normal">/</text>
      <text x={92} y={0} fontSize={38} fontStyle="normal">|</text>
      <text x={100} y={0} fontSize={40} fontFamily={SCRIPT} fontStyle="normal">𝒟</text>
      <text x={132} y={-15} fontSize={31}>a</text>
      <text x={132} y={8} fontSize={28}>r,ν</text>
      <text x={172} y={0} fontSize={36} fontStyle="normal">{MINUS}</text>
      <text x={195} y={0} fontSize={38}>ϵ</text>
      <text x={212} y={-15} fontSize={31}>a</text>
      <text x={228} y={0} fontSize={38} fontStyle="normal">|</text>
    </g>
  );
}

function ColorBar({ x0, x1, top, bottom }: { x0: number; x1: number; top: number; bottom: number }) {
  const c = d3.scaleLinear().domain([0, 2]).range([bottom, top]);
  const levels = d3.range(0, 2, 2 / 140);
  const h = Math.abs(c(levels[1]) - c(0));
  return (
    <g>
      {levels.map((v) => (
        <rect key={v} x={x0} width={x1 - x0} y={c(v) - h - 0.3} height={h + 0.6} fill={d3.interpolateBrBG(v / 2)} opacity={0.6} />
      ))}
      <rect x={x0} y={top} width={x1 - x0} height={bottom - top} fill="none" stroke="#111" strokeWidth={3.5} />
      {cbTicks.map((v) => (
        <g key={v}>
          <line x1={x1} x2={x1 - 8} y1={c(v)} y2={c(v)} stroke="#111" strokeWidth={3.5} />
          <text x={x1 + 12} y={c(v) + (v === 2 ? 15 : v === 0 ? 11 : 13)} fontFamily={SERIF} fontSize={33} fill="#111">{v === 0 ? "0" : v.toFixed(1)}</text>
        </g>
      ))}
      <BarLabel x={1519} y={bottom - 99} />
    </g>
  );
}

function XLabel({ x, y }: { x: number; y: number }) {
  return (
    <g fontFamily={SERIF} fill="#111" fontStyle="italic">
      <text x={x} y={y} fontSize={35}>Π</text>
      <text x={x + 30} y={y - 17} fontSize={29}>a</text>
      <line x1={x + 29} x2={x + 51} y1={y - 12} y2={y - 12} stroke="#111" strokeWidth={1.6} />
      <text x={x + 30} y={y + 15} fontSize={29}>S</text>
    </g>
  );
}

export default function App() {
  return (
    <svg width={1569} height={1748} style={{ position: "absolute", left: 0, top: 0, background: "#fff" }}>
      {PANELS.map((p) => (
        <Panel key={p.id} cfg={p} />
      ))}
      {BARS.map((b) => (
        <ColorBar key={b.top} {...b} />
      ))}
      <XLabel x={419} y={1723} />
      <XLabel x={1087} y={1723} />
    </svg>
  );
}
